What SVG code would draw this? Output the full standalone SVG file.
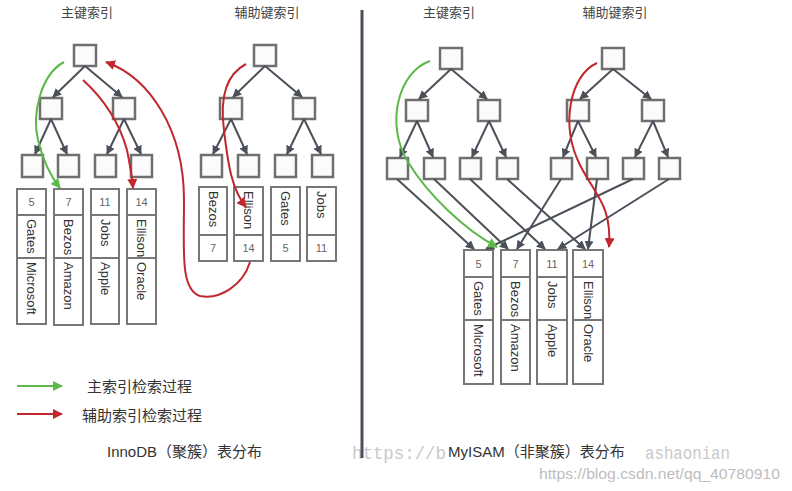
<svg xmlns="http://www.w3.org/2000/svg" width="792" height="491" viewBox="0 0 792 491">
<defs>
<style>
.node{fill:#fbfbfb;stroke:#6f6f6f;stroke-width:2.5}
.cell{fill:#fff;stroke:#777;stroke-width:2}
.edge{stroke:#4b5059;stroke-width:2;fill:none;marker-end:url(#ah)}
.g{stroke:#5cb848;stroke-width:2;fill:none;marker-end:url(#ag)}
.r{stroke:#c0282d;stroke-width:2;fill:none;marker-end:url(#ar)}
.title{font-family:"Liberation Sans","Noto Sans CJK SC",sans-serif;font-size:13px;fill:#444;text-anchor:middle}
.num{font-family:"Liberation Sans",Arial,sans-serif;font-size:11px;fill:#666;text-anchor:middle;dominant-baseline:central}
.nm{font-family:"Liberation Sans",Arial,sans-serif;font-size:13px;fill:#333;dominant-baseline:central}
.lbl{font-family:"Liberation Sans","Noto Sans CJK SC",sans-serif;font-size:15px;fill:#333}
.wm{font-family:"Liberation Mono",monospace;font-size:18px;fill:#c9c9c9}
</style>
<marker id="ah" viewBox="0 0 10 10" refX="9" refY="5" markerWidth="9" markerHeight="9" markerUnits="userSpaceOnUse" orient="auto"><path d="M0,0 L10,5 L0,10 z" fill="#4b5059"/></marker>
<marker id="ag" viewBox="0 0 10 10" refX="9" refY="5" markerWidth="10" markerHeight="10" markerUnits="userSpaceOnUse" orient="auto"><path d="M0,0 L10,5 L0,10 z" fill="#5cb848"/></marker>
<marker id="ar" viewBox="0 0 10 10" refX="9" refY="5" markerWidth="10" markerHeight="10" markerUnits="userSpaceOnUse" orient="auto"><path d="M0,0 L10,5 L0,10 z" fill="#c0282d"/></marker>
</defs>
<rect width="792" height="491" fill="#fff"/>

<!-- watermarks -->
<text class="wm" x="352" y="459" textLength="94" lengthAdjust="spacingAndGlyphs">https://b</text>
<text class="wm" x="645" y="459" textLength="85" lengthAdjust="spacingAndGlyphs">ashaonian</text>
<text x="539" y="479" font-family="Liberation Sans Narrow,Liberation Sans,sans-serif" font-size="15" fill="#bdbdbd" textLength="241" lengthAdjust="spacingAndGlyphs">https://blog.csdn.net/qq_40780910</text>

<!-- divider -->
<line x1="362" y1="10" x2="362" y2="458" stroke="#4a4f5a" stroke-width="3"/>

<!-- titles -->
<text class="title" x="87" y="17">主键索引</text>
<text class="title" x="267" y="17">辅助键索引</text>
<text class="title" x="449" y="17">主键索引</text>
<text class="title" x="615" y="17">辅助键索引</text>

<g id="inno-pk-tree">
<rect class="node" x="74" y="45" width="22" height="21"/>
<rect class="node" x="40" y="98" width="22" height="21"/>
<rect class="node" x="113" y="98" width="22" height="21"/>
<rect class="node" x="22" y="155" width="21" height="22"/>
<rect class="node" x="58" y="155" width="21" height="22"/>
<rect class="node" x="95" y="155" width="21" height="22"/>
<rect class="node" x="131" y="155" width="21" height="22"/>
</g>
<g id="inno-sk-tree">
<rect class="node" x="254" y="45" width="22" height="21"/>
<rect class="node" x="220" y="98" width="22" height="21"/>
<rect class="node" x="293" y="98" width="22" height="21"/>
<rect class="node" x="201" y="155" width="21" height="22"/>
<rect class="node" x="238" y="155" width="21" height="22"/>
<rect class="node" x="275" y="155" width="21" height="22"/>
<rect class="node" x="312" y="155" width="21" height="22"/>
</g>
<g id="my-pk-tree">
<rect class="node" x="440" y="48" width="22" height="21"/>
<rect class="node" x="406" y="100" width="22" height="21"/>
<rect class="node" x="478" y="100" width="22" height="21"/>
<rect class="node" x="387" y="158" width="21" height="21"/>
<rect class="node" x="424" y="158" width="21" height="21"/>
<rect class="node" x="460" y="158" width="21" height="21"/>
<rect class="node" x="497" y="158" width="21" height="21"/>
</g>
<g id="my-sk-tree">
<rect class="node" x="602" y="48" width="22" height="21"/>
<rect class="node" x="567" y="100" width="22" height="21"/>
<rect class="node" x="642" y="100" width="22" height="21"/>
<rect class="node" x="551" y="158" width="21" height="21"/>
<rect class="node" x="587" y="158" width="21" height="21"/>
<rect class="node" x="623" y="158" width="21" height="21"/>
<rect class="node" x="659" y="158" width="21" height="21"/>
</g>

<g id="inno-leaf-5">
<rect class="cell" x="17" y="189" width="29" height="26"/><rect class="cell" x="17" y="215" width="29" height="43"/><rect class="cell" x="17" y="258" width="29" height="66"/>
<text class="num" x="31.5" y="202">5</text>
<text class="nm" transform="translate(31.5,219) rotate(90)">Gates</text>
<text class="nm" transform="translate(31.5,262) rotate(90)">Microsoft</text>
</g>
<g id="inno-leaf-7">
<rect class="cell" x="54" y="189" width="29" height="26"/><rect class="cell" x="54" y="215" width="29" height="43"/><rect class="cell" x="54" y="258" width="29" height="67"/>
<text class="num" x="68.5" y="202">7</text>
<text class="nm" transform="translate(68.5,219) rotate(90)">Bezos</text>
<text class="nm" transform="translate(68.5,262) rotate(90)">Amazon</text>
</g>
<g id="inno-leaf-11">
<rect class="cell" x="91" y="189" width="28" height="26"/><rect class="cell" x="91" y="215" width="28" height="43"/><rect class="cell" x="91" y="258" width="28" height="66"/>
<text class="num" x="105" y="202">11</text>
<text class="nm" transform="translate(105,219) rotate(90)">Jobs</text>
<text class="nm" transform="translate(105,262) rotate(90)">Apple</text>
</g>
<g id="inno-leaf-14">
<rect class="cell" x="127" y="189" width="29" height="26"/><rect class="cell" x="127" y="215" width="29" height="43"/><rect class="cell" x="127" y="258" width="29" height="66"/>
<text class="num" x="141.5" y="202">14</text>
<text class="nm" transform="translate(141.5,219) rotate(90)">Ellison</text>
<text class="nm" transform="translate(141.5,262) rotate(90)">Oracle</text>
</g>

<g id="inno-sec-bezos">
<rect class="cell" x="199" y="187" width="28" height="48"/><rect class="cell" x="199" y="235" width="28" height="26"/>
<text class="nm" transform="translate(213,191) rotate(90)">Bezos</text>
<text class="num" x="213" y="248">7</text>
</g>
<g id="inno-sec-ellison">
<rect class="cell" x="234" y="187" width="29" height="48"/><rect class="cell" x="234" y="235" width="29" height="26"/>
<text class="nm" transform="translate(248.5,191) rotate(90)">Ellison</text>
<text class="num" x="248.5" y="248">14</text>
</g>
<g id="inno-sec-gates">
<rect class="cell" x="271" y="187" width="29" height="48"/><rect class="cell" x="271" y="235" width="29" height="26"/>
<text class="nm" transform="translate(285.5,191) rotate(90)">Gates</text>
<text class="num" x="285.5" y="248">5</text>
</g>
<g id="inno-sec-jobs">
<rect class="cell" x="307" y="187" width="29" height="48"/><rect class="cell" x="307" y="235" width="29" height="26"/>
<text class="nm" transform="translate(321.5,191) rotate(90)">Jobs</text>
<text class="num" x="321.5" y="248">11</text>
</g>

<g id="my-row-5">
<rect class="cell" x="464" y="250" width="29" height="27"/><rect class="cell" x="464" y="277" width="29" height="43"/><rect class="cell" x="464" y="320" width="29" height="64"/>
<text class="num" x="478.5" y="263.5">5</text>
<text class="nm" transform="translate(478.5,281) rotate(90)">Gates</text>
<text class="nm" transform="translate(478.5,324) rotate(90)">Microsoft</text>
</g>
<g id="my-row-7">
<rect class="cell" x="501" y="250" width="29" height="27"/><rect class="cell" x="501" y="277" width="29" height="43"/><rect class="cell" x="501" y="320" width="29" height="64"/>
<text class="num" x="515.5" y="263.5">7</text>
<text class="nm" transform="translate(515.5,281) rotate(90)">Bezos</text>
<text class="nm" transform="translate(515.5,324) rotate(90)">Amazon</text>
</g>
<g id="my-row-11">
<rect class="cell" x="537" y="250" width="30" height="27"/><rect class="cell" x="537" y="277" width="30" height="43"/><rect class="cell" x="537" y="320" width="30" height="64"/>
<text class="num" x="552" y="263.5">11</text>
<text class="nm" transform="translate(552,281) rotate(90)">Jobs</text>
<text class="nm" transform="translate(552,324) rotate(90)">Apple</text>
</g>
<g id="my-row-14">
<rect class="cell" x="573" y="250" width="30" height="27"/><rect class="cell" x="573" y="277" width="30" height="43"/><rect class="cell" x="573" y="320" width="30" height="64"/>
<text class="num" x="588" y="263.5">14</text>
<text class="nm" transform="translate(588,281) rotate(90)">Ellison</text>
<text class="nm" transform="translate(588,324) rotate(90)">Oracle</text>
</g>

<g id="connectors">
<line class="edge" x1="85" y1="66" x2="53" y2="97"/>
<line class="edge" x1="85" y1="66" x2="122" y2="97"/>
<line class="edge" x1="51" y1="119" x2="35" y2="154"/>
<line class="edge" x1="51" y1="119" x2="67" y2="154"/>
<line class="edge" x1="124" y1="119" x2="107" y2="154"/>
<line class="edge" x1="124" y1="119" x2="141" y2="154"/>

<line class="edge" x1="265" y1="66" x2="233" y2="97"/>
<line class="edge" x1="265" y1="66" x2="302" y2="97"/>
<line class="edge" x1="231" y1="119" x2="213" y2="154"/>
<line class="edge" x1="231" y1="119" x2="247" y2="154"/>
<line class="edge" x1="304" y1="119" x2="287" y2="154"/>
<line class="edge" x1="304" y1="119" x2="321" y2="154"/>

<line class="edge" x1="451" y1="69" x2="419" y2="99"/>
<line class="edge" x1="451" y1="69" x2="487" y2="99"/>
<line class="edge" x1="417" y1="121" x2="400" y2="157"/>
<line class="edge" x1="417" y1="121" x2="433" y2="157"/>
<line class="edge" x1="489" y1="121" x2="472" y2="157"/>
<line class="edge" x1="489" y1="121" x2="506" y2="157"/>

<line class="edge" x1="613" y1="69" x2="580" y2="99"/>
<line class="edge" x1="613" y1="69" x2="651" y2="99"/>
<line class="edge" x1="578" y1="121" x2="563" y2="157"/>
<line class="edge" x1="578" y1="121" x2="596" y2="157"/>
<line class="edge" x1="653" y1="121" x2="635" y2="157"/>
<line class="edge" x1="653" y1="121" x2="668" y2="157"/>

<line class="edge" x1="397" y1="179" x2="474" y2="249"/>
<line class="edge" x1="434" y1="179" x2="508" y2="249"/>
<line class="edge" x1="470" y1="179" x2="545" y2="249"/>
<line class="edge" x1="507" y1="179" x2="585" y2="249"/>
<line class="edge" x1="561" y1="179" x2="517" y2="249"/>
<line class="edge" x1="597" y1="179" x2="588" y2="249"/>
<line class="edge" x1="633" y1="179" x2="486" y2="249"/>
<line class="edge" x1="669" y1="179" x2="558" y2="249"/>

<path class="g" d="M64,62 C40,75 32,115 38,140 C44,165 52,178 60,188"/>
<path class="r" d="M83,80 C105,100 120,125 127,150 C130,165 132,175 133,188"/>
<path class="r" d="M250,262 C243,285 220,300 200,296 C180,290 184,250 184,200 C184,130 150,78 106,62"/>
<path class="r" d="M246,64 C225,75 220,100 224,130 C228,165 232,190 246,207"/>
<path class="g" d="M430,61 C398,72 385,125 408,162 C428,195 465,230 497,247"/>
<path class="r" d="M597,63 C570,75 560,125 580,165 C595,195 612,205 609,247"/>

<line class="g" x1="17" y1="386" x2="62" y2="386"/>
<line class="r" x1="17" y1="414" x2="62" y2="414"/>
</g>

<text class="lbl" x="87" y="392">主索引检索过程</text>
<text class="lbl" x="82" y="421">辅助索引检索过程</text>
<text class="lbl" x="107" y="457">InnoDB（聚簇）表分布</text>
<text class="lbl" x="448" y="457">MyISAM（非聚簇）表分布</text>
</svg>
